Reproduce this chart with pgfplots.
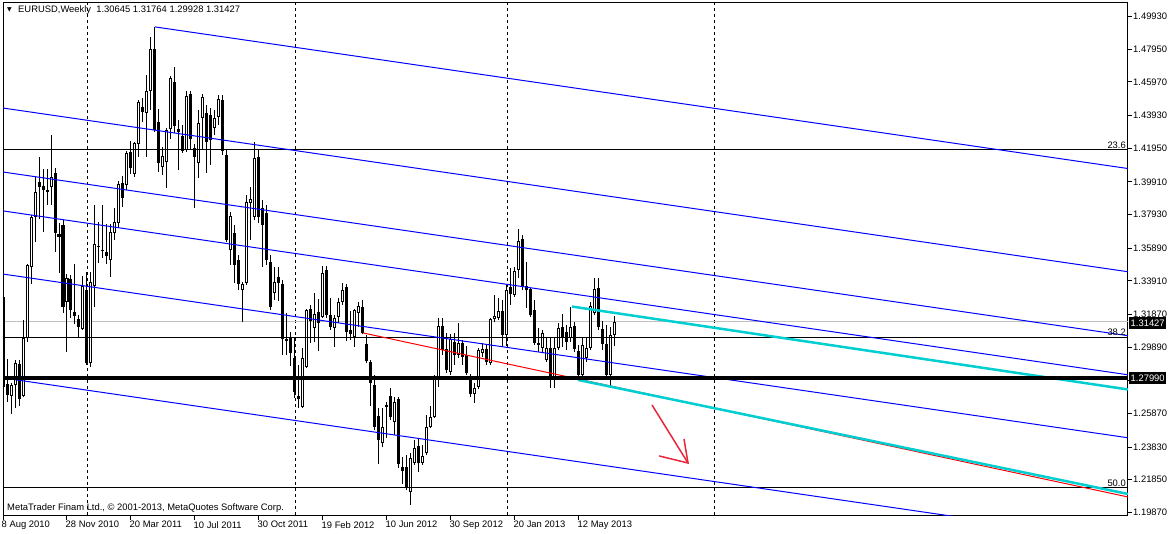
\documentclass[border=0pt]{standalone}
\usepackage{pgfplots}
\pgfplotsset{compat=1.18}
\usepackage{pgfplotstable}
\usepackage{fontspec}
\setmainfont{Liberation Sans}
\newfontfamily\djv{DejaVu Sans}
\newcommand\mt{\fontsize{9.4}{11}\selectfont}
\definecolor{mtblue}{RGB}{0,0,255}
\definecolor{mtcyan}{RGB}{0,206,209}
\definecolor{mtred}{RGB}{255,0,0}
\definecolor{arrowred}{RGB}{230,40,60}
\definecolor{bidgray}{RGB}{192,192,192}

\pgfplotstableread{
x o h l c
0 1.3293 1.3299 1.2741 1.2747
1 1.2765 1.2917 1.2656 1.2699
2 1.2693 1.2771 1.2583 1.2759
3 1.2759 1.2911 1.2620 1.2893
4 1.2887 1.2911 1.2632 1.2674
5 1.2693 1.3154 1.2686 1.3044
6 1.3044 1.3493 1.3020 1.3487
7 1.3475 1.3790 1.3372 1.3778
8 1.3778 1.4021 1.3627 1.3930
9 1.3990 1.4142 1.3766 1.3960
10 1.3966 1.4069 1.3687 1.3942
11 1.3942 1.4069 1.3851 1.3930
12 1.3960 1.4276 1.3851 1.4021
13 1.4045 1.4075 1.3566 1.3681
14 1.3675 1.3742 1.3439 1.3657
15 1.3730 1.3760 1.3196 1.3232
16 1.3263 1.3432 1.2959 1.3408
17 1.3402 1.3426 1.3166 1.3214
18 1.3202 1.3493 1.3129 1.3178
19 1.3160 1.3184 1.3050 1.3111
20 1.3099 1.3420 1.3093 1.3360
21 1.3335 1.3445 1.2881 1.2893
22 1.2893 1.3445 1.2868 1.3384
23 1.3360 1.3851 1.3232 1.3614
24 1.3596 1.3748 1.3499 1.3602
25 1.3578 1.3851 1.3530 1.3572
26 1.3566 1.3736 1.3493 1.3542
27 1.3517 1.3736 1.3414 1.3687
28 1.3681 1.3833 1.3639 1.3748
29 1.3742 1.3997 1.3712 1.3978
30 1.3984 1.4027 1.3839 1.3893
31 1.3972 1.4178 1.3942 1.4166
32 1.4172 1.4239 1.4039 1.4075
33 1.4039 1.4233 1.4021 1.4227
34 1.4221 1.4488 1.4142 1.4476
35 1.4445 1.4500 1.4354 1.4415
36 1.4409 1.4639 1.4142 1.4542
37 1.4542 1.4870 1.4427 1.4797
38 1.4797 1.4931 1.4294 1.4306
39 1.4354 1.4433 1.4051 1.4106
40 1.4081 1.4203 1.4033 1.4148
41 1.4112 1.4318 1.3954 1.4306
42 1.4312 1.4633 1.4251 1.4621
43 1.4597 1.4688 1.4288 1.4330
44 1.4312 1.4367 1.4063 1.4294
45 1.4269 1.4336 1.4166 1.4178
46 1.4185 1.4542 1.4172 1.4512
47 1.4524 1.4542 1.4185 1.4251
48 1.4197 1.4221 1.3833 1.4142
49 1.4106 1.4427 1.4015 1.4348
50 1.4379 1.4524 1.4185 1.4506
51 1.4409 1.4458 1.4045 1.4233
52 1.4397 1.4439 1.4094 1.4245
53 1.4318 1.4427 1.4276 1.4379
54 1.4385 1.4518 1.4336 1.4494
55 1.4488 1.4518 1.4154 1.4178
56 1.4154 1.4185 1.3627 1.3639
57 1.3578 1.3809 1.3487 1.3784
58 1.3681 1.3730 1.3378 1.3487
59 1.3517 1.3548 1.3335 1.3372
60 1.3335 1.3384 1.3141 1.3372
61 1.3378 1.3912 1.3366 1.3869
62 1.3863 1.3960 1.3639 1.3887
63 1.3778 1.4233 1.3760 1.4136
64 1.4142 1.4185 1.3742 1.3778
65 1.3833 1.3881 1.3475 1.3730
66 1.3802 1.3851 1.3487 1.3517
67 1.3505 1.3548 1.3214 1.3232
68 1.3317 1.3475 1.3275 1.3384
69 1.3414 1.3475 1.3269 1.3378
70 1.3372 1.3396 1.2941 1.3038
71 1.3038 1.3196 1.2941 1.3026
72 1.3044 1.3081 1.2875 1.2953
73 1.2923 1.3044 1.2680 1.2717
74 1.2693 1.2881 1.2620 1.2674
75 1.2626 1.2984 1.2620 1.2923
76 1.2868 1.3220 1.2862 1.3214
77 1.3220 1.3244 1.3014 1.3147
78 1.3105 1.3317 1.3020 1.3190
79 1.3202 1.3281 1.2965 1.3135
80 1.3172 1.3481 1.3166 1.3439
81 1.3457 1.3481 1.3166 1.3184
82 1.3184 1.3287 1.3093 1.3111
83 1.3105 1.3184 1.2990 1.3166
84 1.3172 1.3287 1.3135 1.3263
85 1.3263 1.3378 1.3244 1.3335
86 1.3354 1.3372 1.3026 1.3081
87 1.3093 1.3208 1.3032 1.3069
88 1.3050 1.3220 1.2990 1.3214
89 1.3196 1.3263 1.3111 1.3238
90 1.3232 1.3275 1.3069 1.3075
91 1.3008 1.3063 1.2893 1.2905
92 1.2899 1.2911 1.2632 1.2771
93 1.2759 1.2820 1.2486 1.2505
94 1.2571 1.2620 1.2280 1.2426
95 1.2408 1.2620 1.2383 1.2505
96 1.2638 1.2656 1.2438 1.2626
97 1.2693 1.2741 1.2547 1.2565
98 1.2535 1.2686 1.2456 1.2656
99 1.2674 1.2686 1.2256 1.2280
100 1.2262 1.2323 1.2159 1.2238
101 1.2262 1.2335 1.2122 1.2141
102 1.2110 1.2347 1.2032 1.2317
103 1.2286 1.2426 1.2274 1.2377
104 1.2389 1.2438 1.2232 1.2286
105 1.2286 1.2395 1.2274 1.2329
106 1.2347 1.2577 1.2335 1.2505
107 1.2505 1.2632 1.2498 1.2565
108 1.2565 1.2820 1.2559 1.2814
109 1.2808 1.3166 1.2747 1.3117
110 1.3117 1.3166 1.2941 1.2972
111 1.2978 1.3075 1.2832 1.2850
112 1.2838 1.3069 1.2820 1.3038
113 1.3020 1.3075 1.2881 1.2941
114 1.2941 1.3135 1.2923 1.3014
115 1.3014 1.3032 1.2881 1.2929
116 1.2941 1.2996 1.2820 1.2832
117 1.2814 1.2826 1.2686 1.2705
118 1.2705 1.2771 1.2650 1.2741
119 1.2747 1.2984 1.2735 1.2972
120 1.2953 1.3014 1.2929 1.2978
121 1.2978 1.3002 1.2881 1.2899
122 1.2893 1.3166 1.2881 1.3160
123 1.3160 1.3305 1.3141 1.3178
124 1.3166 1.3287 1.3154 1.3208
125 1.3208 1.3275 1.2990 1.3063
126 1.3063 1.3366 1.2996 1.3335
127 1.3354 1.3469 1.3244 1.3311
128 1.3305 1.3475 1.3293 1.3451
129 1.3457 1.3705 1.3408 1.3633
130 1.3645 1.3669 1.3335 1.3354
131 1.3360 1.3505 1.3226 1.3335
132 1.3342 1.3348 1.3172 1.3184
133 1.3214 1.3275 1.3002 1.3014
134 1.3014 1.3105 1.2959 1.3002
135 1.2984 1.3093 1.2959 1.3075
136 1.2911 1.3044 1.2899 1.2984
137 1.2984 1.3044 1.2741 1.2808
138 1.2808 1.3044 1.2741 1.2984
139 1.2984 1.3135 1.2972 1.3105
140 1.3111 1.3190 1.2990 1.3044
141 1.3081 1.3123 1.2972 1.3020
142 1.3044 1.3232 1.3020 1.3111
143 1.3117 1.3141 1.2959 1.2978
144 1.2965 1.3002 1.2790 1.2820
145 1.2820 1.3044 1.2802 1.3002
146 1.2923 1.3044 1.2899 1.2984
147 1.2984 1.3263 1.2972 1.3238
148 1.3196 1.3408 1.3184 1.3342
149 1.3348 1.3408 1.3093 1.3111
150 1.3099 1.3147 1.2972 1.3008
151 1.3008 1.3123 1.2790 1.2820
152 1.2820 1.3111 1.2747 1.3063
153 1.30645 1.31764 1.29928 1.31427
}\candles

\begin{document}
\begin{tikzpicture}[x=1pt,y=1pt]
\path[use as bounding box, fill=white] (-3,-18) rectangle (1167,516);
\begin{axis}[
  at={(0,0)}, anchor=south west,
  width=1125pt, height=513pt, scale only axis,
  xmin=0, xmax=281.25, ymin=1.19646, ymax=1.50761,
  axis line style={line width=1pt, black},
  every tick/.style={black, line width=1pt},
  tick align=outside, major tick length=4pt,
  xtick pos=left, ytick pos=right, yticklabel pos=right,
  xtick={0,16,32,48,64,80,96,112,128,144},
  xticklabels={8 Aug 2010,28 Nov 2010,20 Mar 2011,10 Jul 2011,30 Oct 2011,19 Feb 2012,10 Jun 2012,30 Sep 2012,20 Jan 2013,12 May 2013},
  xticklabel style={font=\mt, anchor=north west, inner sep=0pt, xshift=-1.5pt, yshift=-1pt},
  ytick={1.4993,1.4795,1.4597,1.4393,1.4195,1.3991,1.3793,1.3589,1.3391,1.3187,1.2989,1.2785,1.2587,1.2383,1.2185,1.1987},
  yticklabels={1.49930,1.47950,1.45970,1.43930,1.41950,1.39910,1.37930,1.35890,1.33910,1.31870,1.29890,{},1.25870,1.23830,1.21850,1.19870},
  yticklabel style={font=\mt, anchor=west, inner sep=0pt, xshift=1pt},
  clip=true,
]
% period separators
\addplot[black, line width=1pt, dash pattern=on 3pt off 3pt, forget plot] coordinates {(21.125,1.19) (21.125,1.51)};
\addplot[black, line width=1pt, dash pattern=on 3pt off 3pt, forget plot] coordinates {(73.125,1.19) (73.125,1.51)};
\addplot[black, line width=1pt, dash pattern=on 3pt off 3pt, forget plot] coordinates {(126.125,1.19) (126.125,1.51)};
\addplot[black, line width=1pt, dash pattern=on 3pt off 3pt, forget plot] coordinates {(177.875,1.19) (177.875,1.51)};
% bid line
\addplot[bidgray, line width=1pt, forget plot] coordinates {(0,1.31427) (281.25,1.31427)};
% candles: wicks
\addplot[forget plot, draw=none, mark=none, error bars/.cd, y dir=plus, y explicit, error mark=none,
  error bar style={draw=black, solid, line width=1pt}]
  table[x=x, y=l, y error expr=\thisrow{h}-\thisrow{l}] {\candles};
% candles: bodies
\addplot[forget plot, draw=none, mark=none, error bars/.cd, y dir=plus, y explicit, error mark=none,
  error bar style={draw=black, solid, line width=3pt}]
  table[x=x, y expr={min(\thisrow{o},\thisrow{c})}, y error expr={max(abs(\thisrow{c}-\thisrow{o}),0.0006)}] {\candles};
% bullish interiors
\addplot[forget plot, draw=none, mark=none, restrict expr to domain={\thisrow{c}-\thisrow{o}}{0.0013:1},
  error bars/.cd, y dir=plus, y explicit, error mark=none,
  error bar style={draw=white, solid, line width=1pt}]
  table[x=x, y expr={\thisrow{o}+0.0006}, y error expr={\thisrow{c}-\thisrow{o}-0.0012}] {\candles};
% fibo levels
\addplot[black, line width=1pt, forget plot] coordinates {(0,1.4189) (281.25,1.4189)};
\addplot[black, line width=1pt, forget plot] coordinates {(0,1.3050) (281.25,1.3050)};
\addplot[black, line width=1pt, forget plot] coordinates {(0,1.2135) (281.25,1.2135)};
% channel lines
\addplot[mtblue, line width=1pt, forget plot] coordinates {(38,1.4931) (281.25,1.4072)};
\addplot[mtblue, line width=1pt, forget plot] coordinates {(0,1.4439) (281.25,1.3446)};
\addplot[mtblue, line width=1pt, forget plot] coordinates {(0,1.4051) (281.25,1.3058)};
\addplot[mtblue, line width=1pt, forget plot] coordinates {(0,1.3815) (281.25,1.2821)};
\addplot[mtblue, line width=1pt, forget plot] coordinates {(0,1.3432) (281.25,1.2439)};
\addplot[mtblue, line width=1pt, forget plot] coordinates {(0,1.2802) (281.25,1.1808)};
% red trend line
\addplot[mtred, line width=1pt, forget plot] coordinates {(90,1.3075) (281.25,1.2080)};
% cyan lines
\addplot[mtcyan, line width=2.5pt, forget plot] coordinates {(142.25,1.3235) (281.25,1.2732)};
\addplot[mtcyan, line width=2.5pt, forget plot] coordinates {(143.75,1.2790) (281.25,1.2098)};
% thick horizontal
\addplot[black, line width=4pt, forget plot] coordinates {(0,1.2799) (281.25,1.2799)};
% arrow
\addplot[arrowred, line width=1.5pt, forget plot] coordinates {(162.25,1.2638) (171.25,1.2286)};
\addplot[arrowred, line width=1.5pt, forget plot] coordinates {(164,1.2329) (171.25,1.2286) (170.25,1.2432)};
\end{axis}
% texts
\node[anchor=west, inner sep=0pt, font=\djv\fontsize{6}{7}\selectfont] at (4,506) {▼};
\node[anchor=west, inner sep=0pt, font=\mt] at (15,506) {EURUSD,Weekly\ \ 1.30645 1.31764 1.29928 1.31427};
\node[anchor=west, inner sep=0pt, font=\mt] at (4,8) {MetaTrader Finam Ltd., © 2001-2013, MetaQuotes Software Corp.};
\node[anchor=south east, inner sep=0pt, font=\mt] at (1123,367.5) {23.6};
\node[anchor=south east, inner sep=0pt, font=\mt] at (1123,180.5) {38.2};
\node[anchor=south east, inner sep=0pt, font=\mt] at (1123,29.5) {50.0};
% price boxes
\node[fill=black, text=white, anchor=west, inner xsep=1.5pt, inner ysep=1pt, minimum height=12pt, font=\mt] at (1126,193) {1.31427};
\node[fill=black, text=white, anchor=west, inner xsep=1.5pt, inner ysep=1pt, minimum height=12pt, font=\mt] at (1126,137.6) {1.27990};
\end{tikzpicture}
\end{document}
